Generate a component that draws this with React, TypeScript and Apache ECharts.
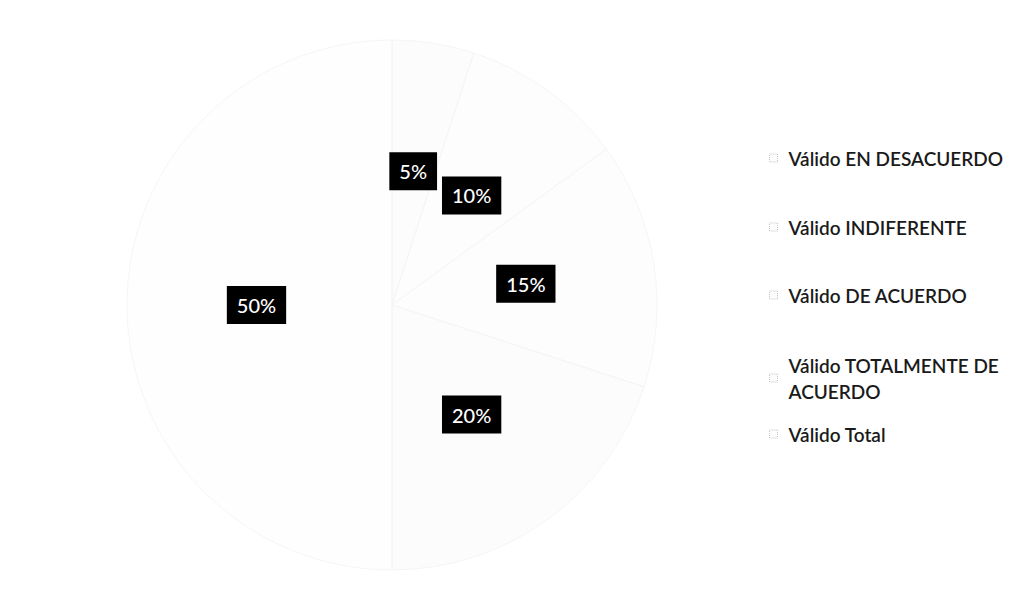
import React, { useEffect, useRef } from "react";
import * as echarts from "echarts";

const categories = [
  "Válido EN DESACUERDO",
  "Válido INDIFERENTE",
  "Válido DE ACUERDO",
  "Válido TOTALMENTE DE ACUERDO",
  "Válido Total",
];
const legendLabels = [
  "Válido EN DESACUERDO",
  "Válido INDIFERENTE",
  "Válido DE ACUERDO",
  "Válido TOTALMENTE DE\nACUERDO",
  "Válido Total",
];
const percentValues = [5, 10, 15, 20, 50];
const sliceColors = ["#fcfcfc", "#fdfdfd", "#fdfdfd", "#fcfcfc", "#fefefe"];
const legendTops = [140, 209, 277, 347, 416];

export default function App() {
  const ref = useRef<HTMLDivElement>(null);
  useEffect(() => {
    document.body.style.margin = "0";
    const chart = echarts.init(ref.current!, null, { renderer: "svg" });
    const font = "Lato, 'Open Sans', sans-serif";
    chart.setOption({
      animation: false,
      backgroundColor: "#ffffff",
      color: sliceColors,
      legend: categories.map((name, i) => ({
        data: [name],
        orient: "vertical",
        left: 764,
        top: legendTops[i],
        icon: "rect",
        itemWidth: 8,
        itemHeight: 8,
        itemGap: 6,
        itemStyle: { borderColor: "#c4c4c4", borderWidth: 1, borderType: "dotted" },
        formatter: () => legendLabels[i],
        textStyle: {
          fontFamily: font,
          fontSize: 19,
          fontWeight: 600,
          color: "#1a1a1a",
          lineHeight: 26,
          padding: [0, 0, 0, 6],
        },
        selectedMode: false,
      })),
      series: [
        {
          type: "pie",
          center: [392, 305],
          radius: 265,
          startAngle: 90,
          clockwise: true,
          data: categories.map((name, i) => ({ name, value: percentValues[i] })),
          itemStyle: { borderColor: "#f3f3f3", borderWidth: 0.8 },
          label: {
            show: true,
            position: "inside",
            formatter: (p: any) => `${p.value}%`,
            backgroundColor: "#000000",
            color: "#ffffff",
            fontFamily: font,
            fontSize: 20,
            fontWeight: 500,
            padding: [9, 10],
          },
          labelLine: { show: false },
          emphasis: { disabled: true },
        },
      ],
    });
    return () => chart.dispose();
  }, []);
  return <div ref={ref} style={{ width: 1013, height: 601 }} />;
}
